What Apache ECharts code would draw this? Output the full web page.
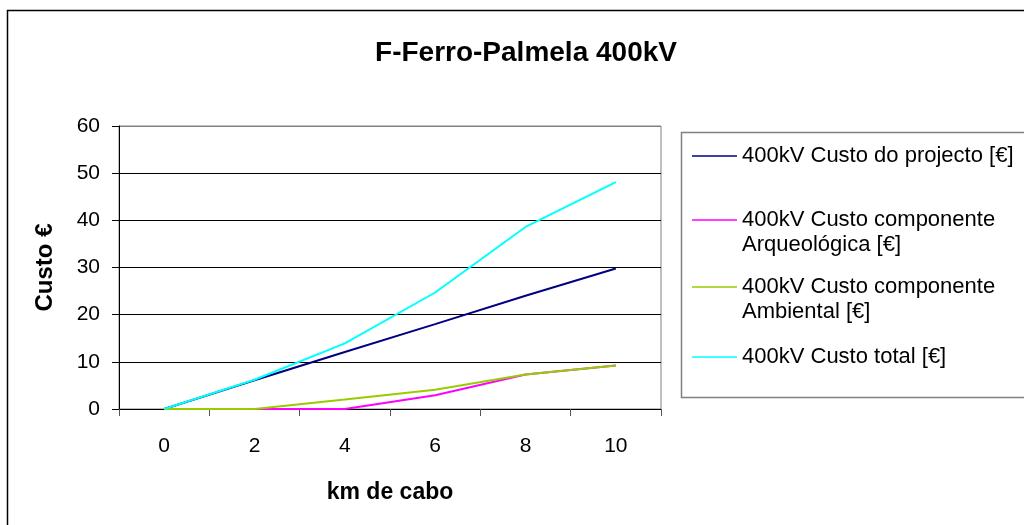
<!DOCTYPE html>
<html>
<head>
<meta charset="utf-8">
<script src="https://cdn.jsdelivr.net/npm/echarts@6/dist/echarts.min.js"></script>
<style>
html,body{margin:0;padding:0;background:#fff;}
#c{width:1024px;height:525px;}
</style>
</head>
<body>
<div id="c"></div>
<script>
const categories = ['0', '2', '4', '6', '8', '10'];
const seriesNames = [
  '400kV Custo do projecto [€]',
  '400kV Custo componente\nArqueológica [€]',
  '400kV Custo componente\nAmbiental [€]',
  '400kV Custo total [€]'
];
const projecto = [0, 6.1, 12.1, 18, 24, 29.8];
const arqueologica = [0, 0, 0, 2.9, 7.3, 9.2];
const ambiental = [0, 0, 2, 4.1, 7.3, 9.2];
const total = [0, 6.2, 13.9, 24.7, 38.6, 48.1];
const yTicks = [0, 10, 20, 30, 40, 50, 60];
const colors = ['#000080', '#FF00FF', '#99CC00', '#00FFFF'];

const font = '"Liberation Sans", Arial, sans-serif';
const chart = echarts.init(document.getElementById('c'), null, {renderer: 'canvas'});

const dataSets = [projecto, arqueologica, ambiental, total];
const LH = 25;
// first-line centre y of each legend entry
const legendLineY = [156, 220, 287, 357];

const option = {
  animation: false,
  backgroundColor: '#fff',
  title: {
    text: 'F-Ferro-Palmela 400kV',
    left: 521, top: 34, textAlign: 'center',
    textStyle: {fontFamily: font, fontWeight: 'bold', fontSize: 28, color: '#000'}
  },
  graphic: [
    {type: 'rect', shape: {x: 7.5, y: 10.5, width: 1100, height: 600}, style: {fill: 'none', stroke: '#000', lineWidth: 1.5}, z: 100},
    {type: 'rect', shape: {x: 681.5, y: 132.5, width: 500, height: 265}, style: {fill: 'none', stroke: '#808080', lineWidth: 1.5}, z: 100}
  ],
  legend: seriesNames.map((n, i) => {
    const twoLines = n.indexOf('\n') >= 0;
    return {
      data: [n], left: 687,
      top: twoLines ? legendLineY[i] - 1.5 * LH - 5 : legendLineY[i] - LH / 2 - 5,
      orient: 'vertical',
      icon: 'rect', itemWidth: 45, itemHeight: 1.6, itemGap: 0,
      selectedMode: false,
      formatter: name => (name.indexOf('\n') >= 0 ? '\n' + name : name),
      textStyle: {fontFamily: font, fontSize: 22, color: '#000', lineHeight: LH}
    };
  }),
  grid: {left: 119, top: 126, right: 363, bottom: 116, show: true, borderColor: '#808080', borderWidth: 1, backgroundColor: 'transparent'},
  xAxis: {
    type: 'category', data: categories, boundaryGap: true,
    name: 'km de cabo', nameLocation: 'middle', nameGap: 72,
    nameTextStyle: {fontFamily: font, fontWeight: 'bold', fontSize: 23, color: '#000'},
    axisLine: {lineStyle: {color: '#000', width: 1}},
    axisTick: {show: true, inside: false, length: 7, lineStyle: {color: '#555'}},
    axisLabel: {fontFamily: font, fontSize: 21, color: '#000', margin: 27}
  },
  yAxis: {
    type: 'value', min: 0, max: 60, interval: 10,
    name: 'Custo €', nameLocation: 'middle', nameGap: 62,
    nameTextStyle: {fontFamily: font, fontWeight: 'bold', fontSize: 24, color: '#000'},
    axisLine: {show: true, lineStyle: {color: '#000', width: 1}},
    axisTick: {show: true, inside: false, length: 7, lineStyle: {color: '#000'}},
    axisLabel: {fontFamily: font, fontSize: 21, color: '#000', margin: 19,
      formatter: v => yTicks.includes(v) ? String(v) : ''},
    splitLine: {show: true, lineStyle: {color: ['#000', '#000', '#000', '#000', '#000', '#000', '#808080'], width: 1}}
  },
  series: seriesNames.map((n, i) => ({
    name: n, type: 'line', data: dataSets[i],
    symbol: 'none', showSymbol: false,
    lineStyle: {color: colors[i], width: 2},
    itemStyle: {color: colors[i]},
    z: 2 + i
  }))
};
chart.setOption(option);
</script>
</body>
</html>
